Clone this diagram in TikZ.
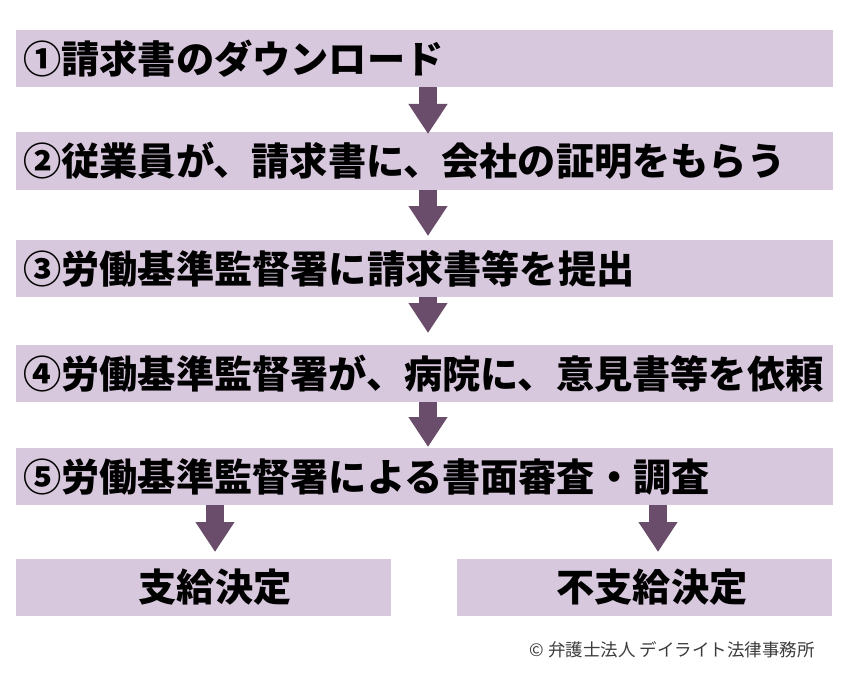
\documentclass[tikz,border=0pt]{standalone}
\usepackage{fontspec}
\newfontfamily\jp{Noto Sans CJK JP}
\usetikzlibrary{arrows.meta}
\definecolor{barfill}{RGB}{216,200,222}
\definecolor{arrowcol}{RGB}{106,77,106}
\definecolor{copycol}{RGB}{60,60,60}
\tikzset{
  bar/.style={fill=barfill, draw=none, anchor=north west, minimum height=57bp,
    inner xsep=7bp, inner ysep=0pt, text width=803bp, align=left,
    font=\jp\bfseries\fontsize{38.2bp}{40bp}\selectfont, text=black},
  endbox/.style={fill=barfill, draw=none, anchor=north west, minimum width=375bp,
    minimum height=57bp, inner sep=0pt},
  endtext/.style={font=\jp\bfseries\fontsize{38.2bp}{40bp}\selectfont, text=black, inner sep=0pt},
  bigarrow/.style={draw=arrowcol, line width=18bp, line cap=butt,
    -{Triangle[width=37bp, length=30bp]}}
}
\begin{document}
\begin{tikzpicture}[x=1bp, y=-1bp]
  \fill[white] (0,0) rectangle (850,678);
  \useasboundingbox (0,0) rectangle (850,678);

  \node[bar, minimum height=57bp] (b1) at (16,30) {①請求書のダウンロード};
  \node[bar, minimum height=58bp] (b2) at (16,132) {②従業員が、請求書に、会社の証明をもらう};
  \node[bar, minimum height=57bp] (b3) at (16,240) {③労働基準監督署に請求書等を提出};
  \node[bar, minimum height=57bp] (b4) at (16,345) {④労働基準監督署が、病院に、意見書等を依頼};
  \node[bar, minimum height=57bp] (b5) at (16,448) {⑤労働基準監督署による書面審査・調査};

  \node[endbox] (e1) at (16,559) {};
  \node[endbox] (e2) at (457,559) {};
  \node[endtext] (t1) at (215,587) {支給決定};
  \node[endtext] (t2) at (652,587) {不支給決定};

  \coordinate (ax) at (428,0);
  \coordinate (al) at (215,0);
  \coordinate (ar) at (658,0);

  \draw[bigarrow] (b1.south -| ax) -- ([yshift=-2bp]b2.north -| ax);
  \draw[bigarrow] (b2.south -| ax) -- ([yshift=4bp]b3.north -| ax);
  \draw[bigarrow] (b3.south -| ax) -- ([yshift=12bp]b4.north -| ax);
  \draw[bigarrow] (b4.south -| ax) -- ([yshift=1bp]b5.north -| ax);
  \draw[bigarrow] (b5.south -| al) -- ([yshift=7bp]e1.north -| al);
  \draw[bigarrow] (b5.south -| ar) -- ([yshift=7bp]e2.north -| ar);

  \node[font=\jp\fontsize{17.5bp}{20bp}\selectfont, text=copycol, anchor=east, inner sep=0pt]
    (copy) at (815,650) {© 弁護士法人 デイライト法律事務所};
\end{tikzpicture}
\end{document}
